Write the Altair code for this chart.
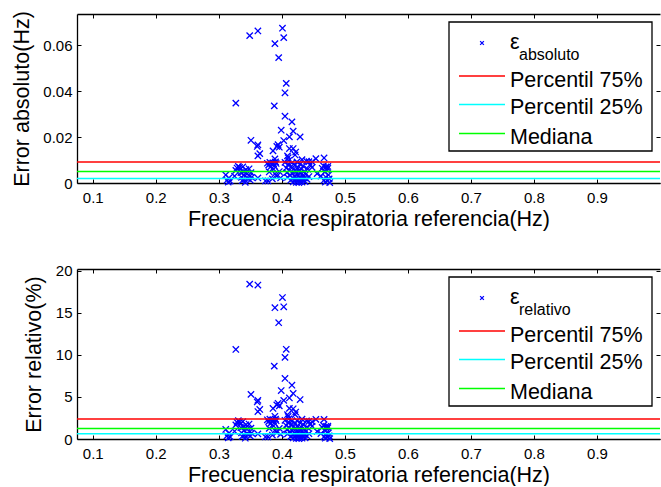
import altair as alt
import pandas as pd

# ---------------- data ----------------
freq = [
    0.349, 0.362, 0.401, 0.403, 0.389, 0.395, 0.407, 0.405, 0.327, 0.388,
    0.405, 0.416, 0.399, 0.418, 0.412, 0.429, 0.351, 0.403, 0.362, 0.361,
    0.394, 0.392, 0.396, 0.412, 0.386, 0.365, 0.362, 0.418, 0.422, 0.421,
    0.409, 0.410, 0.389, 0.454, 0.467, 0.432, 0.443,
    0.311, 0.313, 0.315, 0.316, 0.318, 0.325, 0.327, 0.329, 0.331, 0.333,
    0.334, 0.335, 0.336, 0.337, 0.338, 0.339, 0.340, 0.341, 0.342, 0.343,
    0.345, 0.346, 0.348, 0.349, 0.350, 0.351, 0.352, 0.362, 0.374, 0.378,
    0.377, 0.379, 0.381, 0.382, 0.384, 0.386, 0.387, 0.388, 0.390, 0.391,
    0.389, 0.392, 0.385, 0.396, 0.398, 0.380,
    0.405, 0.407, 0.408, 0.409, 0.410, 0.411, 0.412, 0.413, 0.414, 0.415,
    0.416, 0.417, 0.418, 0.418, 0.419, 0.420, 0.421, 0.421, 0.422, 0.423,
    0.423, 0.424, 0.425, 0.425, 0.426, 0.427, 0.427, 0.428, 0.429, 0.429,
    0.430, 0.431, 0.431, 0.432, 0.433, 0.434, 0.434, 0.435, 0.436, 0.437,
    0.438, 0.439, 0.440, 0.441, 0.443, 0.445, 0.448, 0.448, 0.456,
    0.462, 0.464, 0.466, 0.467, 0.468, 0.469, 0.470, 0.470, 0.471, 0.472,
    0.473, 0.474, 0.475, 0.476, 0.473,
]

err_abs = [
    0.0642, 0.0662, 0.0674, 0.0633, 0.0607, 0.0546, 0.0434, 0.0393, 0.0348, 0.0336,
    0.0291, 0.0266, 0.0230, 0.0226, 0.0201, 0.0201, 0.0186, 0.0185, 0.0166, 0.0159,
    0.0167, 0.0159, 0.0156, 0.0150, 0.0140, 0.0128, 0.0118, 0.0150, 0.0135, 0.0122,
    0.0118, 0.0110, 0.0105, 0.0106, 0.0109, 0.0102, 0.0093,
    0.0035, 0.0012, 0.0004, 0.0022, 0.0008, 0.0030, 0.0055, 0.0065, 0.0072, 0.0068,
    0.0060, 0.0045, 0.0025, 0.0010, 0.0070, 0.0050, 0.0035, 0.0015, 0.0003, 0.0058,
    0.0040, 0.0020, 0.0062, 0.0030, 0.0012, 0.0045, 0.0025, 0.0022, 0.0009, 0.0009,
    0.0086, 0.0078, 0.0090, 0.0070, 0.0082, 0.0088, 0.0060, 0.0075, 0.0092, 0.0085,
    0.0040, 0.0030, 0.0018, 0.0050, 0.0022, 0.0048,
    0.0090, 0.0065, 0.0045, 0.0025, 0.0080, 0.0098, 0.0055, 0.0035, 0.0012, 0.0072,
    0.0088, 0.0042, 0.0020, 0.0005, 0.0062, 0.0030, 0.0010, 0.0078, 0.0048, 0.0022,
    0.0003, 0.0092, 0.0066, 0.0036, 0.0014, 0.0052, 0.0002, 0.0026, 0.0082, 0.0008,
    0.0044, 0.0018, 0.0060, 0.0004, 0.0032, 0.0012, 0.0074, 0.0050, 0.0022, 0.0006,
    0.0038, 0.0095, 0.0016, 0.0060, 0.0028, 0.0080, 0.0068, 0.0092, 0.0041,
    0.0030, 0.0064, 0.0075, 0.0012, 0.0048, 0.0004, 0.0070, 0.0025, 0.0058, 0.0010,
    0.0064, 0.0035, 0.0018, 0.0002, 0.0072,
]

err_rel = [
    18.40, 18.29, 16.81, 15.71, 15.60, 13.82, 10.66, 9.70, 10.64, 8.66,
    7.19, 6.39, 5.76, 5.41, 4.88, 4.69, 5.30, 4.59, 4.59, 4.40,
    4.24, 4.06, 3.94, 3.64, 3.63, 3.51, 3.26, 3.59, 3.20, 2.90,
    2.89, 2.68, 2.70, 2.33, 2.33, 2.36, 2.10,
    1.13, 0.38, 0.13, 0.70, 0.25, 0.92, 1.68, 1.98, 2.18, 2.04,
    1.80, 1.34, 0.74, 0.30, 2.07, 1.47, 1.03, 0.44, 0.09, 1.69,
    1.16, 0.58, 1.78, 0.86, 0.34, 1.28, 0.71, 0.61, 0.24, 0.24,
    2.28, 2.06, 2.36, 1.83, 2.14, 2.28, 1.55, 1.93, 2.36, 2.17,
    1.03, 0.77, 0.47, 1.26, 0.55, 1.26,
    2.22, 1.60, 1.10, 0.61, 1.95, 2.38, 1.33, 0.85, 0.29, 1.73,
    2.12, 1.01, 0.48, 0.12, 1.48, 0.71, 0.24, 1.85, 1.14, 0.52,
    0.07, 2.17, 1.55, 0.85, 0.33, 1.22, 0.05, 0.61, 1.91, 0.19,
    1.02, 0.42, 1.39, 0.09, 0.74, 0.28, 1.71, 1.15, 0.50, 0.14,
    0.87, 2.16, 0.36, 1.36, 0.63, 1.80, 1.52, 2.05, 0.90,
    0.65, 1.38, 1.61, 0.26, 1.03, 0.09, 1.49, 0.53, 1.23, 0.21,
    1.35, 0.74, 0.38, 0.04, 1.52,
]

line_labels = ["Percentil 75%", "Percentil 25%", "Mediana"]
line_colors = ["#ff0000", "#00ffff", "#00ff00"]
pct_abs = [0.0091, 0.0020, 0.0050]
pct_rel = [2.38, 0.63, 1.26]

x_ticks = [0.1, 0.2, 0.3, 0.4, 0.5, 0.6, 0.7, 0.8, 0.9]
y_ticks_abs = [0, 0.02, 0.04, 0.06]
y_ticks_rel = [0, 5, 10, 15, 20]

# ---------------- styling ----------------
FONT = "Liberation Sans"
XPATH = "M-1,-1L1,1M-1,1L1,-1"
BLUE = "#0000ff"
W = 583
XTITLE = "Frecuencia respiratoria referencia(Hz)"


def axis_main(orient, values, title, title_pad, fmt):
    return alt.Axis(
        orient=orient, values=values, format=fmt, title=title,
        offset=-4, tickSize=4, domain=False, grid=False,
        labelPadding=7 if orient == "bottom" else 5,
        labelFlush=False, labelOverlap=False,
        labelFont=FONT, titleFont=FONT, labelFontSize=15, titleFontSize=21.5,
        titleFontWeight="normal", labelColor="black", titleColor="black",
        tickColor="black", titlePadding=title_pad,
    )


def axis_ticks_only(orient, values):
    # inward ticks on the mirrored (top / right) sides
    return alt.Axis(
        orient=orient, values=values, title="", labels=False,
        offset=-4, tickSize=4, domain=False, grid=False, tickColor="black",
    )


def axis_frame(orient):
    # plain black frame line on a side of the plot
    return alt.Axis(
        orient=orient, title="", labels=False, ticks=False, grid=False,
        domain=True, domainColor="black", domainWidth=1.3,
    )


def panel(yvals, ydomain, yticks, ytitle, ytitle_pad, pcts, sub, height):
    df = pd.DataFrame({"f": freq, "e": yvals})
    xsc = alt.Scale(domain=[0.075, 1.0], nice=False, zero=False)
    ysc = alt.Scale(domain=ydomain, nice=False, zero=False)

    pts = alt.Chart(df).mark_point(
        shape=XPATH, filled=False, size=40, strokeWidth=1.3, color=BLUE, opacity=1
    ).encode(
        x=alt.X("f:Q", scale=xsc, axis=axis_main("bottom", x_ticks, XTITLE, 3, "~g")),
        y=alt.Y("e:Q", scale=ysc, axis=axis_main("left", yticks, ytitle, ytitle_pad, "~g")),
    )
    mirror = alt.Chart(df).mark_point(opacity=0).encode(
        x=alt.X("f:Q", scale=xsc, axis=axis_ticks_only("top", x_ticks)),
        y=alt.Y("e:Q", scale=ysc, axis=axis_ticks_only("right", yticks)),
    )
    frame_bl = alt.Chart(df).mark_point(opacity=0).encode(
        x=alt.X("f:Q", scale=xsc, axis=axis_frame("bottom")),
        y=alt.Y("e:Q", scale=ysc, axis=axis_frame("left")),
    )
    frame_t = alt.Chart(df).mark_point(opacity=0).encode(
        x=alt.X("f:Q", scale=xsc, axis=axis_frame("top")),
        y=alt.Y("e:Q", scale=ysc, axis=None),
    )
    pdf = pd.DataFrame({"lab": line_labels, "v": pcts, "c": line_colors})
    rules = alt.Chart(pdf).mark_rule(strokeWidth=1.5).encode(
        y=alt.Y("v:Q", scale=ysc, axis=None),
        color=alt.Color("c:N", scale=None, legend=None),
    )

    one = pd.DataFrame({"k": [0]})
    leg = [
        alt.Chart(one).mark_rect(fill="white", stroke="black", strokeWidth=1.3).encode(
            x=alt.value(372), x2=alt.value(575), y=alt.value(8), y2=alt.value(137)
        ),
        alt.Chart(one).mark_point(
            shape=XPATH, filled=False, size=14, strokeWidth=1.3, color=BLUE, opacity=1
        ).encode(x=alt.value(405), y=alt.value(29)),
        alt.Chart(one).mark_text(
            align="left", baseline="alphabetic", font=FONT, fontSize=21.5, color="black"
        ).encode(x=alt.value(433), y=alt.value(35), text=alt.value("ε")),
        alt.Chart(one).mark_text(
            align="left", baseline="alphabetic", font=FONT, fontSize=16, color="black"
        ).encode(x=alt.value(442), y=alt.value(45.5), text=alt.value(sub)),
    ]
    row_line_y = [62, 90.5, 119.5]
    row_text_y = [72.5, 100, 129.5]
    for lab, col, ly, ty in zip(line_labels, line_colors, row_line_y, row_text_y):
        leg.append(
            alt.Chart(one).mark_rule(strokeWidth=1.5, color=col).encode(
                x=alt.value(382), x2=alt.value(428), y=alt.value(ly)
            )
        )
        leg.append(
            alt.Chart(one).mark_text(
                align="left", baseline="alphabetic", font=FONT, fontSize=21.5, color="black"
            ).encode(x=alt.value(433), y=alt.value(ty), text=alt.value(lab))
        )

    return alt.layer(pts, mirror, frame_bl, frame_t, rules, *leg).resolve_axis(
        x="independent", y="independent"
    ).properties(width=W, height=height)


top = panel(err_abs, [0, 0.0736], y_ticks_abs, "Error absoluto(Hz)", 9.5,
            pct_abs, "absoluto", 169)
bottom = panel(err_rel, [0, 20.2], y_ticks_rel, "Error relativo(%)", 10,
               pct_rel, "relativo", 170)

chart = alt.vconcat(top, bottom, spacing=33).properties(
    padding={"left": 11, "top": 10, "right": 0, "bottom": 0},
    background="white",
).configure_view(strokeWidth=0)

chart.save("out.html", embed_options={"renderer": "svg", "actions": False})
